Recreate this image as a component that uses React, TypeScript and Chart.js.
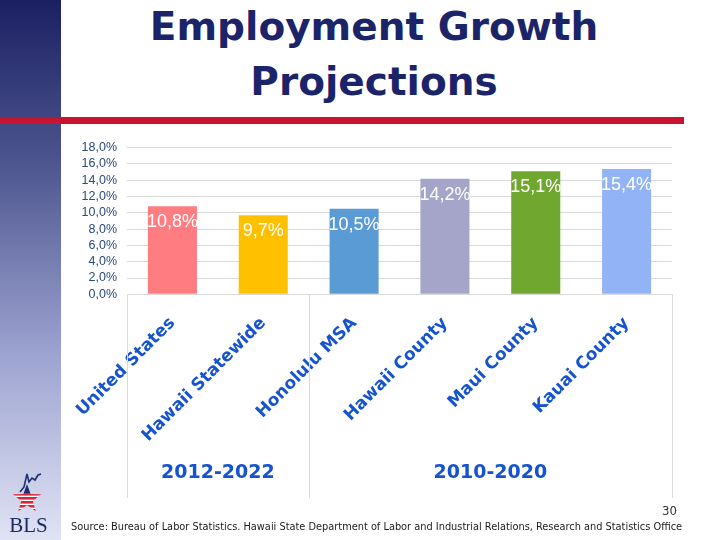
import React, { useEffect, useRef } from "react";
import { Chart, registerables } from "chart.js";

Chart.register(...registerables);

// Employment growth by area, with the projection period each figure belongs to
const categories = [
  "United States",
  "Hawaii Statewide",
  "Honolulu MSA",
  "Hawaii County",
  "Maui County",
  "Kauai County",
];
const growth = [10.8, 9.7, 10.5, 14.2, 15.1, 15.4];
const barColors = ["#ff7c80", "#ffc000", "#5b9bd5", "#a5a5c9", "#70a82f", "#92b4f6"];
const periods = ["2012-2022", "2010-2020"];
const periodSizes = [2, 4];

const fmtPct = (v: number) => v.toFixed(1).replace(".", ",") + "%";

// Data labels drawn in white just inside the top of each bar
const barLabels = {
  id: "barLabels",
  afterDatasetsDraw(chart: any) {
    const ctx = chart.ctx;
    const meta = chart.getDatasetMeta(0);
    ctx.save();
    ctx.fillStyle = "#ffffff";
    ctx.font = "18px 'Liberation Sans', Arial, sans-serif";
    ctx.textAlign = "center";
    ctx.textBaseline = "top";
    meta.data.forEach((bar: any, i: number) => {
      ctx.fillText(fmtPct(growth[i]), bar.x, bar.y + 7);
    });
    ctx.restore();
  },
};

// Second level of the category axis: period groups with separator lines
const periodGroups = {
  id: "periodGroups",
  afterDraw(chart: any) {
    const ctx = chart.ctx;
    const xs = chart.scales.x;
    const area = chart.chartArea;
    const half = (xs.getPixelForValue(1) - xs.getPixelForValue(0)) / 2;
    const lineBottom = 498;
    ctx.save();
    ctx.strokeStyle = "#d9d9d9";
    ctx.lineWidth = 1;
    let start = 0;
    const edges: number[] = [xs.getPixelForValue(0) - half];
    periodSizes.forEach((n) => {
      start += n;
      edges.push(xs.getPixelForValue(start - 1) + half);
    });
    edges.forEach((px) => {
      const x = Math.round(px) + 0.5;
      ctx.beginPath();
      ctx.moveTo(x, area.bottom);
      ctx.lineTo(x, lineBottom);
      ctx.stroke();
    });
    ctx.fillStyle = "#1553cf";
    ctx.font = "bold 19px 'DejaVu Sans', Verdana, sans-serif";
    ctx.textAlign = "center";
    ctx.textBaseline = "middle";
    periods.forEach((p, i) => {
      ctx.fillText(p, (edges[i] + edges[i + 1]) / 2, 473);
    });
    ctx.restore();
  },
};

function BlsLogo() {
  const cx = 27;
  const cy = 499;
  const pts: string[] = [];
  for (let k = 0; k < 10; k++) {
    const r = k % 2 === 0 ? 15 : 6.2;
    const a = -Math.PI / 2 + (k * Math.PI) / 5;
    pts.push(`${(cx + r * Math.cos(a)).toFixed(2)},${(cy + r * Math.sin(a)).toFixed(2)}`);
  }
  const stripes = [];
  for (let y = 493; y < 516; y += 4) {
    stripes.push(<rect key={y} x={8} y={y} width={40} height={2.6} fill="#d7263d" />);
  }
  return (
    <svg
      width={61}
      height={80}
      viewBox="0 460 61 80"
      style={{ position: "absolute", left: 0, top: 460 }}
    >
      <defs>
        <clipPath id="starClip">
          <polygon points={pts.join(" ")} />
        </clipPath>
      </defs>
      <polyline
        points="20,492 24,487 27,474 29,482 32,478 35,480 38,475 41,474"
        fill="none"
        stroke="#1f2d6e"
        strokeWidth={1.6}
      />
      <g clipPath="url(#starClip)">
        <rect x={8} y={480} width={40} height={13} fill="#1f2d6e" />
        <rect x={8} y={493} width={40} height={23} fill="#ffffff" />
        {stripes}
      </g>
      <text
        x={28.5}
        y={532}
        textAnchor="middle"
        fontFamily="'Liberation Serif', 'DejaVu Serif', serif"
        fontSize={21}
        fill="#1b2a5e"
      >
        BLS
      </text>
    </svg>
  );
}

export default function App() {
  const canvasRef = useRef<HTMLCanvasElement | null>(null);

  useEffect(() => {
    if (!canvasRef.current) return;
    const chart = new Chart(canvasRef.current, {
      type: "bar",
      data: {
        labels: categories,
        datasets: [
          {
            data: growth,
            backgroundColor: barColors,
            borderWidth: 0,
            categoryPercentage: 1,
            barPercentage: 0.54,
          },
        ],
      },
      options: {
        animation: false,
        responsive: false,
        layout: { padding: { left: 0, right: 48, top: 147.7, bottom: 0 } },
        plugins: {
          legend: { display: false },
          tooltip: { enabled: false },
        },
        scales: {
          x: {
            grid: { display: false, drawTicks: false },
            border: { display: true, color: "#d9d9d9" },
            ticks: {
              autoSkip: false,
              minRotation: 45,
              maxRotation: 45,
              padding: 19,
              color: "#1553cf",
              font: { family: "'DejaVu Sans', Verdana, sans-serif", weight: "bold", size: 17 },
            },
            afterFit: (scale: any) => {
              scale.height = 540 - 294.3;
            },
          },
          y: {
            min: 0,
            max: 18,
            grid: { color: "#d9d9d9", drawTicks: false },
            border: { display: false },
            ticks: {
              stepSize: 2,
              autoSkip: false,
              padding: 10,
              color: "#274b7a",
              font: { family: "'Liberation Sans', Arial, sans-serif", size: 12.5 },
              callback: (v: any) => fmtPct(Number(v)),
            },
            afterFit: (scale: any) => {
              scale.width = 127;
            },
          },
        },
      },
      plugins: [barLabels, periodGroups],
    });
    return () => chart.destroy();
  }, []);

  return (
    <div
      style={{
        position: "absolute",
        left: 0,
        top: 0,
        width: 720,
        height: 540,
        overflow: "hidden",
        background: "#ffffff",
      }}
    >
      <div
        style={{
          position: "absolute",
          left: 0,
          top: 0,
          width: 61,
          height: 540,
          background: "linear-gradient(to bottom, #1b2063 0%, #4d558f 30%, #9ba2cf 65%, #e0e3f5 100%)",
        }}
      />
      <div
        style={{
          position: "absolute",
          left: 0,
          top: 117,
          width: 684,
          height: 7,
          background: "#c8142f",
        }}
      />
      <div
        style={{
          position: "absolute",
          left: 74,
          top: -1,
          width: 600,
          textAlign: "center",
          fontFamily: "'DejaVu Sans', Verdana, sans-serif",
          fontWeight: "bold",
          fontSize: 39,
          lineHeight: "55px",
          color: "#1c2469",
        }}
      >
        Employment Growth
        <br />
        Projections
      </div>
      <canvas
        ref={canvasRef}
        width={720}
        height={540}
        style={{ position: "absolute", left: 0, top: 0 }}
      />
      <BlsLogo />
      <div
        style={{
          position: "absolute",
          right: 43,
          top: 503,
          fontFamily: "'Liberation Sans Narrow', 'DejaVu Sans Condensed', Arial, sans-serif",
          fontSize: 13,
          color: "#333333",
        }}
      >
        30
      </div>
      <div
        style={{
          position: "absolute",
          left: 71,
          top: 520,
          whiteSpace: "nowrap",
          fontFamily: "'Liberation Sans Narrow', 'DejaVu Sans Condensed', Arial, sans-serif",
          fontSize: 10.9,
          color: "#1a1a1a",
        }}
      >
        Source: Bureau of Labor Statistics. Hawaii State Department of Labor and Industrial Relations, Research and Statistics Office
      </div>
    </div>
  );
}
